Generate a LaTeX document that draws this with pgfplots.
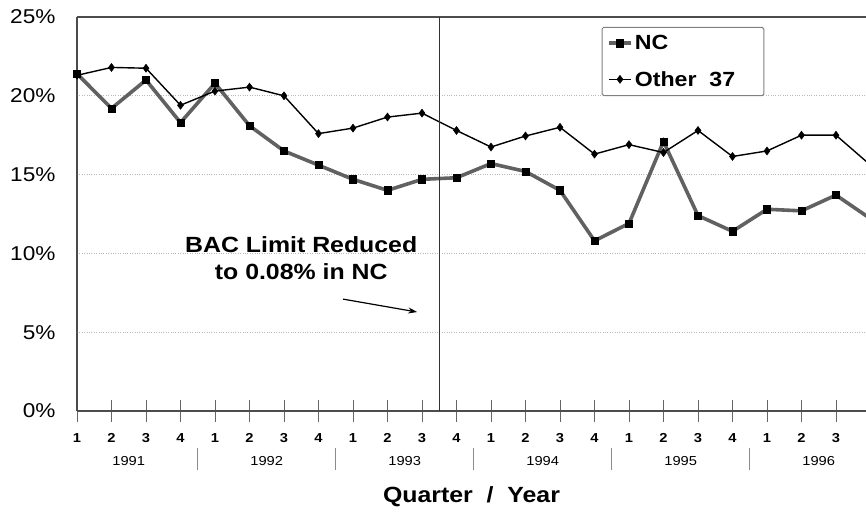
\documentclass[border=0pt]{standalone}
\usepackage{fontspec}
\setmainfont{Liberation Sans}[FakeStretch=1.13]
\usepackage{pgfplots}
\pgfplotsset{compat=1.18}
\usetikzlibrary{arrows.meta}
\begin{document}
\begin{tikzpicture}
\useasboundingbox (0,0) rectangle (866pt,516pt);
\begin{axis}[
  at={(77pt,105pt)}, anchor=south west,
  scale only axis, width=789pt, height=394pt,
  xmin=0, xmax=22.87, ymin=0, ymax=25,
  axis x line=box, axis y line=left,
  axis line style={-, draw=black!70, line width=1.2pt},
  clip mode=individual,
  /pgf/number format/assume math mode=true,
  ytick={0,5,10,15,20,25},
  yticklabel={\pgfmathprintnumber{\tick}\%},
  yticklabel style={font=\fontsize{20}{23}\selectfont, xshift=-7pt},
  ytick style={draw=none},
  xtick={0,...,23},
  xtick pos=bottom,
  xticklabels={1,2,3,4,1,2,3,4,1,2,3,4,1,2,3,4,1,2,3,4,1,2,3,4},
  xticklabel style={font=\bfseries\fontsize{13}{15}\selectfont, yshift=-8pt},
  xtick style={draw=black!60, line width=0.9pt},
  major tick length=22pt, tick align=center,
  ymajorgrids,
  major grid style={dotted, gray!55, line width=0.9pt},
  xlabel={Quarter \ /\ \ Year},
  xlabel style={at={(axis description cs:0.5,0)}, anchor=center, yshift=-86pt, font=\bfseries\fontsize{22}{25}\selectfont},
  legend style={at={(rel axis cs:0.665,0.975)}, anchor=north west, draw=black!50, line width=1pt, rounded corners=1.5pt,
    font=\bfseries\fontsize{20.5}{24}\selectfont, row sep=16pt, inner xsep=5pt, inner ysep=6pt},
  legend cell align=left,
  legend image code/.code={\draw[mark repeat=2,mark phase=2,#1] plot coordinates {(0pt,0pt) (11pt,0pt) (22pt,0pt)};},
]
\addplot[color=black!62, line width=3.6pt, mark=square*, mark size=3.6pt,
  mark options={solid, fill=black, draw=black, line width=0.6pt}] coordinates {
(0,21.4) (1,19.2) (2,21.0) (3,18.3) (4,20.8) (5,18.1) (6,16.5) (7,15.6)
(8,14.7) (9,14.0) (10,14.7) (11,14.8) (12,15.7) (13,15.2) (14,14.0) (15,10.8)
(16,11.9) (17,17.1) (18,12.4) (19,11.4) (20,12.8) (21,12.7) (22,13.7) (23,12.2)
};
\addlegendentry{NC}
\addplot[color=black, line width=1.4pt, mark=diamond*, mark size=4pt,
  mark options={solid, fill=black, draw=black, line width=0.5pt}] coordinates {
(0,21.3) (1,21.8) (2,21.75) (3,19.4) (4,20.3) (5,20.55) (6,20.0) (7,17.6)
(8,17.95) (9,18.65) (10,18.9) (11,17.8) (12,16.75) (13,17.45) (14,18.0) (15,16.3)
(16,16.9) (17,16.4) (18,17.8) (19,16.15) (20,16.5) (21,17.5) (22,17.5) (23,15.6)
};
\addlegendentry{\makebox[122pt][l]{Other\ \ 37}}
\draw[black!80, line width=1.3pt] (axis cs:10.5,0) -- (axis cs:10.5,25);
\node[font=\bfseries\fontsize{22}{27}\selectfont, align=center] at (axis cs:6.5,9.7) {BAC Limit Reduced\\to 0.08\% in NC};
\draw[-{Stealth[length=9pt,width=6pt]}, line width=1.2pt] (axis cs:7.71,7.1) -- (axis cs:9.86,6.28);
\node[font=\fontsize{13}{15}\selectfont, yshift=-50pt] at (axis cs:1.5,0) {1991};
\node[font=\fontsize{13}{15}\selectfont, yshift=-50pt] at (axis cs:5.5,0) {1992};
\node[font=\fontsize{13}{15}\selectfont, yshift=-50pt] at (axis cs:9.5,0) {1993};
\node[font=\fontsize{13}{15}\selectfont, yshift=-50pt] at (axis cs:13.5,0) {1994};
\node[font=\fontsize{13}{15}\selectfont, yshift=-50pt] at (axis cs:17.5,0) {1995};
\node[font=\fontsize{13}{15}\selectfont, yshift=-50pt] at (axis cs:21.5,0) {1996};
\draw[black!45, line width=0.9pt] (axis cs:3.5,0) ++(0,-37pt) -- ++(0,-22pt);
\draw[black!45, line width=0.9pt] (axis cs:7.5,0) ++(0,-37pt) -- ++(0,-22pt);
\draw[black!45, line width=0.9pt] (axis cs:11.5,0) ++(0,-37pt) -- ++(0,-22pt);
\draw[black!45, line width=0.9pt] (axis cs:15.5,0) ++(0,-37pt) -- ++(0,-22pt);
\draw[black!45, line width=0.9pt] (axis cs:19.5,0) ++(0,-37pt) -- ++(0,-22pt);
\end{axis}
\end{tikzpicture}
\end{document}
